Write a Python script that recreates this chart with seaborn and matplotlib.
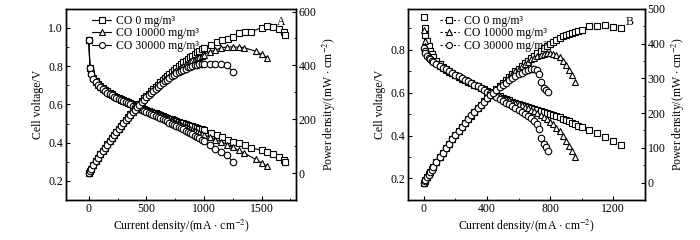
import matplotlib
matplotlib.use('Agg')
import matplotlib.pyplot as plt
from matplotlib.lines import Line2D
from matplotlib.ticker import MultipleLocator
import seaborn as sns
import numpy as np

# ---- panel A data (current mA/cm2, cell voltage V) ----
a_cur_dense = [0, 10, 20, 40, 60, 80, 100, 120, 140, 160, 180, 200, 220, 240, 260, 280, 300,
               320, 340, 360, 380, 400, 420, 440, 460, 480, 500, 520, 540, 560, 580, 600, 620,
               640, 660, 680, 700, 720, 740, 760, 780, 800, 820, 840, 860, 880, 900, 920, 940,
               960, 980, 1000]

a_sq_v = [0.935, 0.79, 0.765, 0.74, 0.72, 0.705, 0.695, 0.685, 0.675, 0.668, 0.66, 0.652, 0.646,
          0.64, 0.634, 0.628, 0.622, 0.617, 0.612, 0.607, 0.602, 0.597, 0.592, 0.587, 0.582,
          0.577, 0.572, 0.567, 0.562, 0.557, 0.553, 0.548, 0.544, 0.539, 0.535, 0.530, 0.526,
          0.522, 0.517, 0.513, 0.509, 0.505, 0.501, 0.497, 0.493, 0.489, 0.485, 0.481, 0.477,
          0.473, 0.469, 0.465]
a_sq_cur_tail = [1060, 1110, 1160, 1205, 1255, 1305, 1355, 1405, 1500, 1550, 1600, 1650, 1695, 1705]
a_sq_v_tail = [0.448, 0.44, 0.427, 0.413, 0.404, 0.399, 0.387, 0.373, 0.36, 0.352, 0.338, 0.325,
               0.31, 0.30]

a_tri_v = [0.935, 0.79, 0.763, 0.738, 0.718, 0.703, 0.692, 0.682, 0.673, 0.665, 0.657, 0.65,
           0.643, 0.637, 0.631, 0.625, 0.619, 0.614, 0.609, 0.603, 0.598, 0.593, 0.588, 0.583,
           0.577, 0.572, 0.567, 0.562, 0.557, 0.552, 0.547, 0.542, 0.537, 0.532, 0.527, 0.522,
           0.517, 0.512, 0.507, 0.502, 0.497, 0.492, 0.487, 0.482, 0.477, 0.472, 0.467, 0.462,
           0.456, 0.45, 0.445, 0.44]
a_tri_cur_tail = [1050, 1100, 1150, 1200, 1250, 1300, 1350, 1450, 1500, 1550]
a_tri_v_tail = [0.43, 0.415, 0.405, 0.39, 0.375, 0.36, 0.345, 0.312, 0.294, 0.276]

a_cir_v = [0.935, 0.79, 0.76, 0.735, 0.715, 0.70, 0.69, 0.68, 0.67, 0.662, 0.655, 0.648, 0.641,
           0.635, 0.629, 0.623, 0.617, 0.611, 0.605, 0.60, 0.594, 0.589, 0.583, 0.578, 0.572,
           0.567, 0.562, 0.556, 0.551, 0.545, 0.54, 0.534, 0.528, 0.523, 0.517, 0.511, 0.505,
           0.499, 0.493, 0.487, 0.481, 0.475, 0.469, 0.462, 0.456, 0.449, 0.443, 0.436, 0.429,
           0.422, 0.414, 0.407]
a_cir_cur_tail = [1050, 1100, 1150, 1200, 1250]
a_cir_v_tail = [0.385, 0.369, 0.352, 0.334, 0.300]

# ---- panel B data ----
b_cur_dense = [0, 5, 10, 20, 30, 40, 50, 60, 80, 100, 120, 140, 160, 180, 200, 220, 240, 260,
               280, 300, 320, 340, 360, 380, 400, 420, 440, 460, 480, 500, 520, 540, 560, 580, 600]

b_sq_v = [0.95, 0.90, 0.87, 0.84, 0.815, 0.795, 0.78, 0.768, 0.748, 0.732, 0.72, 0.71, 0.70,
          0.69, 0.681, 0.673, 0.665, 0.657, 0.65, 0.643, 0.636, 0.629, 0.622, 0.615, 0.608,
          0.601, 0.594, 0.588, 0.582, 0.576, 0.57, 0.564, 0.558, 0.552, 0.547]
b_sq_cur_tail = [620, 640, 660, 680, 700, 720, 740, 760, 780, 800, 820, 840, 860, 880, 900, 920,
                 940, 960, 980, 1000, 1050, 1100, 1150, 1200, 1250]
b_sq_v_tail = [0.542, 0.537, 0.532, 0.527, 0.522, 0.517, 0.512, 0.508, 0.504, 0.5, 0.495, 0.49,
               0.485, 0.479, 0.473, 0.466, 0.459, 0.452, 0.446, 0.44, 0.428, 0.411, 0.394, 0.373,
               0.356]

b_tri_v = [0.89, 0.84, 0.815, 0.79, 0.775, 0.765, 0.757, 0.75, 0.737, 0.726, 0.716, 0.707,
           0.698, 0.69, 0.682, 0.674, 0.666, 0.658, 0.651, 0.644, 0.637, 0.63, 0.623, 0.616,
           0.609, 0.602, 0.595, 0.588, 0.582, 0.576, 0.57, 0.564, 0.558, 0.552, 0.546]
b_tri_cur_tail = [620, 640, 660, 680, 700, 720, 740, 760, 780, 800, 820, 840, 860, 880, 900,
                  920, 940, 960]
b_tri_v_tail = [0.54, 0.534, 0.528, 0.521, 0.514, 0.506, 0.497, 0.488, 0.477, 0.465, 0.452,
                0.437, 0.42, 0.398, 0.375, 0.352, 0.328, 0.302]

b_cir_v = [0.81, 0.795, 0.785, 0.77, 0.762, 0.755, 0.749, 0.743, 0.733, 0.724, 0.716, 0.708,
           0.70, 0.692, 0.684, 0.676, 0.668, 0.66, 0.652, 0.645, 0.637, 0.629, 0.621, 0.613,
           0.605, 0.597, 0.589, 0.58, 0.571, 0.562, 0.553, 0.545, 0.537, 0.529, 0.52]
b_cir_cur_tail = [620, 640, 660, 680, 700, 715, 730, 745, 760, 775, 790]
b_cir_v_tail = [0.511, 0.502, 0.492, 0.48, 0.467, 0.455, 0.43, 0.39, 0.36, 0.345, 0.33]

labels = ['CO 0 mg/m³', 'CO 10000 mg/m³', 'CO 30000 mg/m³']
markers = ['s', '^', 'o']

sns.set_theme(style='ticks')
plt.rcParams['font.family'] = ['Liberation Serif', 'DejaVu Serif']
plt.rcParams['mathtext.fontset'] = 'stix'
plt.rcParams['xtick.direction'] = 'in'
plt.rcParams['ytick.direction'] = 'in'
plt.rcParams['text.color'] = 'black'
plt.rcParams['axes.labelcolor'] = 'black'
plt.rcParams['xtick.color'] = 'black'
plt.rcParams['ytick.color'] = 'black'
plt.rcParams['axes.edgecolor'] = 'black'


def draw_series(ax, axr, cur, volt, marker, lw):
    cur = np.array(cur, dtype=float)
    volt = np.array(volt, dtype=float)
    power = cur * volt  # mW/cm2 = mA/cm2 * V
    kw = dict(color='black', marker=marker, markerfacecolor='white', markeredgecolor='black',
              markersize=4.7, markeredgewidth=0.8, linewidth=lw, estimator=None, sort=False,
              legend=False)
    sns.lineplot(x=cur, y=volt, ax=ax, **kw)
    sns.lineplot(x=cur, y=power, ax=axr, **kw)


def style_panel(ax, axr, xlim, ylim, rlim, xmaj, rmaj, tag, handle_dash, leg_x):
    ax.set_xlim(*xlim)
    ax.set_ylim(*ylim)
    axr.set_ylim(*rlim)
    ax.xaxis.set_major_locator(MultipleLocator(xmaj))
    ax.xaxis.set_minor_locator(MultipleLocator(xmaj / 2))
    ax.yaxis.set_major_locator(MultipleLocator(0.2))
    ax.yaxis.set_minor_locator(MultipleLocator(0.1))
    axr.yaxis.set_major_locator(MultipleLocator(rmaj))
    axr.yaxis.set_minor_locator(MultipleLocator(rmaj / 2))
    for a in (ax, axr):
        a.tick_params(which='major', length=3, width=0.8, labelsize=8.5, pad=2)
        a.tick_params(which='minor', length=1.8, width=0.6)
        for s in a.spines.values():
            s.set_linewidth(1.0)
    ax.set_xlabel(r'Current density/(mA $\cdot$ cm$^{-2}$)', fontsize=8.5, labelpad=2)
    ax.set_ylabel('Cell voltage/V', fontsize=8.5, labelpad=3)
    axr.set_ylabel(r'Power density/(mW $\cdot$ cm$^{-2}$)', fontsize=8.5, labelpad=3)
    axr.set_xlabel('')
    handles = [Line2D([], [], color='black', marker=m, markerfacecolor='white',
                      markeredgecolor='black', markersize=4.3, markeredgewidth=0.8,
                      linewidth=0.8, linestyle=handle_dash) for m in markers]
    axr.legend(handles, labels, loc='upper left', bbox_to_anchor=(leg_x, 1.0), frameon=False,
               fontsize=8.5, handlelength=1.6, labelspacing=0.05, handletextpad=0.4,
               borderaxespad=0.3, borderpad=0.2)
    axr.text(0.955, 0.93, tag, transform=axr.transAxes, ha='right', va='center', fontsize=8.5)


fig = plt.figure(figsize=(7, 2.4), dpi=100)
axA = fig.add_axes([0.094, 0.167, 0.329, 0.796])
axB = fig.add_axes([0.583, 0.167, 0.338, 0.796])
axAr = axA.twinx()
axBr = axB.twinx()

draw_series(axA, axAr, a_cur_dense + a_sq_cur_tail, a_sq_v + a_sq_v_tail, 's', 0.8)
draw_series(axA, axAr, a_cur_dense + a_tri_cur_tail, a_tri_v + a_tri_v_tail, '^', 0.8)
draw_series(axA, axAr, a_cur_dense + a_cir_cur_tail, a_cir_v + a_cir_v_tail, 'o', 0.8)

draw_series(axB, axBr, b_cur_dense + b_sq_cur_tail, b_sq_v + b_sq_v_tail, 's', 0)
draw_series(axB, axBr, b_cur_dense + b_tri_cur_tail, b_tri_v + b_tri_v_tail, '^', 0)
draw_series(axB, axBr, b_cur_dense + b_cir_cur_tail, b_cir_v + b_cir_v_tail, 'o', 0)

style_panel(axA, axAr, (-200, 1800), (0.1, 1.1), (-100, 610), 500, 200, 'A', '-', 0.09)
style_panel(axB, axBr, (-100, 1400), (0.1, 0.99), (-50, 500), 400, 100, 'B', (0, (2, 2)), 0.11)

fig.savefig('out.png', dpi=100)
